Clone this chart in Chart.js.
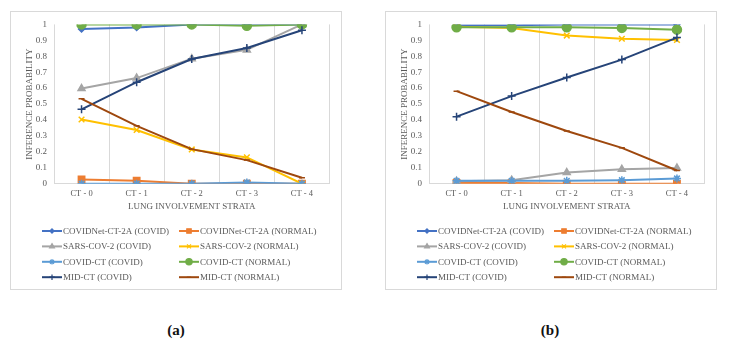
<!DOCTYPE html>
<html>
<head>
<meta charset="utf-8">
<script src="https://cdn.jsdelivr.net/npm/chart.js@4"></script>
<style>
  body { margin: 0; background: #fff; width: 732px; height: 351px; position: relative; overflow: hidden; }
  .box { position: absolute; top: 11px; width: 330px; height: 277px; border: 1px solid #d9d9d9; }
  .cap { position: absolute; top: 322px; font: bold 15px "Liberation Serif", "Times New Roman", "DejaVu Serif", serif; color: #111; transform: translateX(-50%); }
</style>
</head>
<body>
<div class="box" style="left:10px"><canvas id="chartA" width="330" height="277"></canvas></div>
<div class="box" style="left:385px"><canvas id="chartB" width="330" height="277"></canvas></div>
<div class="cap" style="left:176px">(a)</div>
<div class="cap" style="left:550px">(b)</div>
<script>
const categories = ["CT - 0", "CT - 1", "CT - 2", "CT - 3", "CT - 4"];
const seriesNames = [
    "COVIDNet-CT-2A (COVID)", "COVIDNet-CT-2A (NORMAL)",
    "SARS-COV-2 (COVID)", "SARS-COV-2 (NORMAL)",
    "COVID-CT (COVID)", "COVID-CT (NORMAL)",
    "MID-CT (COVID)", "MID-CT (NORMAL)"
];
const yTicks = [0, 0.1, 0.2, 0.3, 0.4, 0.5, 0.6, 0.7, 0.8, 0.9, 1];

// panel (a)
const aCovidnetCovid = [0.971, 0.981, 1.0, 1.0, 1.0];
const aCovidnetNormal = [0.027, 0.019, 0.0, 0.0, 0.0];
const aSarsCovid = [0.597, 0.663, 0.785, 0.84, 1.0];
const aSarsNormal = [0.403, 0.337, 0.215, 0.165, 0.0];
const aCovidctCovid = [0.0, 0.0, 0.0, 0.008, 0.0];
const aCovidctNormal = [1.0, 1.0, 1.0, 0.992, 1.0];
const aMidctCovid = [0.467, 0.637, 0.783, 0.852, 0.963];
const aMidctNormal = [0.533, 0.363, 0.217, 0.148, 0.037];

// panel (b)
const bCovidnetCovid = [0.995, 0.995, 1.0, 1.0, 1.0];
const bCovidnetNormal = [0.005, 0.005, 0.0, 0.0, 0.0];
const bSarsCovid = [0.015, 0.022, 0.07, 0.09, 0.098];
const bSarsNormal = [0.985, 0.978, 0.93, 0.91, 0.902];
const bCovidctCovid = [0.018, 0.018, 0.018, 0.022, 0.033];
const bCovidctNormal = [0.982, 0.982, 0.982, 0.978, 0.967];
const bMidctCovid = [0.421, 0.55, 0.667, 0.779, 0.917];
const bMidctNormal = [0.581, 0.45, 0.331, 0.225, 0.083];

const colors = ["#4472C4", "#ED7D31", "#A5A5A5", "#FFC000", "#5B9BD5", "#70AD47", "#264478", "#9E480E"];
const markers = ["rectRot", "rect", "triangle", "crossRot", "star", "circle", "cross", "line"];
const markerSize = [3, 4.5, 4, 4, 4, 4.5, 4, 3];

const serif = "'Liberation Serif', 'Times New Roman', 'DejaVu Serif', serif";
Chart.defaults.font.family = serif;
Chart.defaults.color = "#595959";

// two column legend like the excel one
const legendPlugin = {
    id: "excelLegend",
    afterDraw(chart) {
        const ctx = chart.ctx;
        chart.data.datasets.forEach((ds, i) => {
            const x0 = i % 2 == 0 ? 31 : 168;
            const y = 219 + Math.floor(i / 2) * 15.4;
            ctx.save();
            ctx.strokeStyle = ds.borderColor;
            ctx.lineWidth = 2;
            ctx.beginPath();
            ctx.moveTo(x0, y);
            ctx.lineTo(x0 + 20, y);
            ctx.stroke();
            ctx.fillStyle = ds.borderColor;
            ctx.lineWidth = 1.2;
            Chart.helpers.drawPoint(ctx, { pointStyle: ds.pointStyle, radius: ds.pointRadius * 0.7, rotation: 0, borderWidth: 1.2 }, x0 + 10, y);
            ctx.fillStyle = "#595959";
            ctx.font = "9px " + serif;
            ctx.textBaseline = "middle";
            ctx.fillText(ds.label, x0 + 21, y + 0.5);
            ctx.restore();
        });
    }
};

function makeChart(id, series) {
    const datasets = series.map((values, i) => ({
        label: seriesNames[i],
        data: values,
        borderColor: colors[i],
        backgroundColor: colors[i],
        borderWidth: 2,
        pointStyle: markers[i],
        pointRadius: markerSize[i],
        pointBorderWidth: 1.5,
        tension: 0,
        order: series.length - i
    }));
    return new Chart(id, {
        type: "line",
        data: { labels: categories, datasets: datasets },
        plugins: [legendPlugin],
        options: {
            responsive: false,
            animation: false,
            layout: { padding: { left: 0, top: 11.7, right: 11.5, bottom: 75 } },
            plugins: { legend: { display: false }, tooltip: { enabled: false } },
            scales: {
                x: {
                    offset: true,
                    grid: { color: "#d9d9d9", offset: true, drawTicks: false },
                    border: { color: "#d9d9d9" },
                    ticks: { padding: 5, font: { size: 8.5 } },
                    title: { display: true, text: "LUNG INVOLVEMENT STRATA", font: { size: 9 }, padding: { top: 2, bottom: 2 } },
                    afterFit: (scale) => { scale.height = 30.3; }
                },
                y: {
                    min: 0,
                    max: 1,
                    afterBuildTicks: (scale) => { scale.ticks = yTicks.map(v => ({ value: v })); },
                    grid: { display: false, drawTicks: false },
                    border: { display: false },
                    ticks: { padding: 7, font: { size: 9 }, callback: (v) => String(v) },
                    title: { display: true, text: "INFERENCE PROBABILITY", font: { size: 9 }, padding: { top: 13.5, bottom: 0 } },
                    afterFit: (scale) => { scale.width = 43; }
                }
            }
        }
    });
}

makeChart("chartA", [aCovidnetCovid, aCovidnetNormal, aSarsCovid, aSarsNormal, aCovidctCovid, aCovidctNormal, aMidctCovid, aMidctNormal]);
makeChart("chartB", [bCovidnetCovid, bCovidnetNormal, bSarsCovid, bSarsNormal, bCovidctCovid, bCovidctNormal, bMidctCovid, bMidctNormal]);
</script>
</body>
</html>
